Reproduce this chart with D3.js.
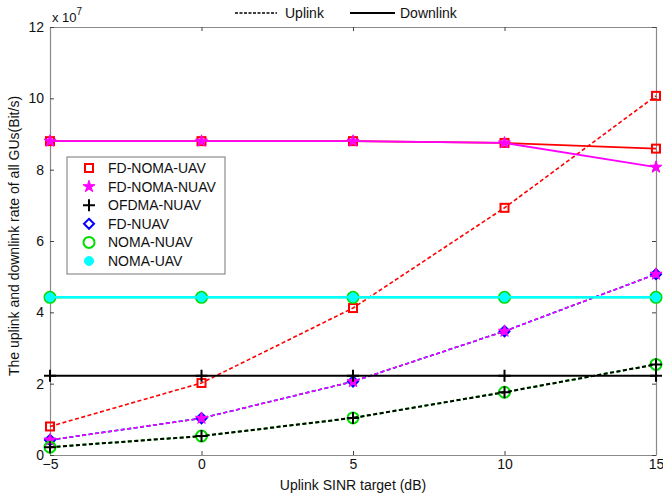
<!DOCTYPE html>
<html><head><meta charset="utf-8">
<script src="https://cdn.jsdelivr.net/npm/d3@7"></script>
<style>body{margin:0;background:#fff}svg{display:block;font-family:"Liberation Sans",Arial,sans-serif}</style>
</head><body><svg id="c" width="663" height="496"></svg>
<script>
const xVals = [-5, 0, 5, 10, 15];
const xTicks = [-5, 0, 5, 10, 15];
const yTicks = [0, 2, 4, 6, 8, 10, 12];
// values in units of 1e7 Bit/s
const fdNomaUavUp   = [0.80, 2.02, 4.12, 6.93, 10.07];
const fdNomaUavDown = [8.80, 8.80, 8.80, 8.75, 8.59];
const fdNomaNuavUp   = [0.42, 1.03, 2.06, 3.47, 5.07];
const fdNomaNuavDown = [8.80, 8.80, 8.80, 8.75, 8.07];
const ofdmaUp   = [0.22, 0.53, 1.04, 1.76, 2.54];
const ofdmaDown = [2.22, 2.22, 2.22, 2.22, 2.22];
const fdNuavUp = [0.42, 1.03, 2.06, 3.47, 5.07];
const nomaNuavUp   = [0.22, 0.53, 1.04, 1.76, 2.54];
const nomaNuavDown = [4.42, 4.42, 4.42, 4.42, 4.42];
const nomaUavUp   = [0.42, 1.03, 2.06, 3.47, 5.07];
const nomaUavDown = [4.42, 4.42, 4.42, 4.42, 4.42];
const legendNames = ["FD-NOMA-UAV","FD-NOMA-NUAV","OFDMA-NUAV","FD-NUAV","NOMA-NUAV","NOMA-UAV"];

const svg = d3.select("#c");
const L=50,R=656,T=27,B=455;
const x = d3.scaleLinear().domain([-5,15]).range([L,R]);
const y = d3.scaleLinear().domain([0,12]).range([B,T]);

const axStyle = g => { g.select(".domain").attr("stroke","#8a8a8a").attr("stroke-width",1.2);
  g.selectAll(".tick line").attr("stroke","#444");
  g.selectAll("text").attr("font-size",14).attr("fill","#111").attr("font-family","Liberation Sans, Arial"); };
svg.append("g").attr("transform",`translate(0,${B})`).call(d3.axisBottom(x).tickValues(xTicks).tickSizeInner(-4).tickSizeOuter(0).tickPadding(4).tickFormat(d3.format("d"))).call(axStyle);
svg.append("g").attr("transform",`translate(0,${T})`).call(d3.axisTop(x).tickValues(xTicks).tickSizeInner(-4).tickSizeOuter(0).tickFormat("")).call(axStyle);
svg.append("g").attr("transform",`translate(${L},0)`).call(d3.axisLeft(y).tickValues(yTicks).tickSizeInner(-4).tickSizeOuter(0).tickPadding(6)).call(axStyle);
svg.append("g").attr("transform",`translate(${R},0)`).call(d3.axisRight(y).tickValues(yTicks).tickSizeInner(-4).tickSizeOuter(0).tickFormat("")).call(axStyle);

const ex = svg.append("text").attr("x",52).attr("y",22).attr("font-size",13).attr("fill","#111");
ex.append("tspan").text("x 10");
ex.append("tspan").attr("dy",-7).attr("font-size",10).text("7");

svg.append("text").attr("x",(L+R)/2).attr("y",490).attr("text-anchor","middle").attr("font-size",14).attr("fill","#111").text("Uplink SINR target (dB)");
svg.append("text").attr("transform",`translate(19,236) rotate(-90)`).attr("text-anchor","middle").attr("font-size",14).attr("fill","#111").text("The uplink and downlink rate of all GUs(Bit/s)");

const line = d3.line().x((d,i)=>x(xVals[i])).y(d=>y(d));

function marker(g, type, color, cx, cy){
  if(type==="square") g.append("rect").attr("x",cx-4).attr("y",cy-4).attr("width",8).attr("height",8).attr("fill","none").attr("stroke",color).attr("stroke-width",2);
  else if(type==="star") g.append("path").attr("d",d3.symbol(d3.symbolStar,45)()).attr("transform",`translate(${cx},${cy})`).attr("fill",color).attr("stroke",color).attr("stroke-width",1);
  else if(type==="plus") g.append("path").attr("d",`M${cx-6},${cy}H${cx+6}M${cx},${cy-6}V${cy+6}`).attr("stroke",color).attr("stroke-width",2);
  else if(type==="diamond") g.append("path").attr("d",`M${cx},${cy-5}L${cx+5},${cy}L${cx},${cy+5}L${cx-5},${cy}Z`).attr("fill","none").attr("stroke",color).attr("stroke-width",2);
  else if(type==="circle") g.append("circle").attr("cx",cx).attr("cy",cy).attr("r",5.5).attr("fill","none").attr("stroke",color).attr("stroke-width",2);
  else if(type==="dot") g.append("circle").attr("cx",cx).attr("cy",cy).attr("r",4.5).attr("fill",color).attr("stroke",color).attr("stroke-width",1);
}
function series(vals, color, type, dashed, width){
  const g = svg.append("g");
  g.append("path").datum(vals).attr("d",line).attr("fill","none").attr("stroke",color).attr("stroke-width",width).attr("stroke-dasharray",dashed?"4,2.5":null);
  vals.forEach((v,i)=>marker(g,type,color,x(xVals[i]),y(v)));
}
series(nomaUavUp,"#00ffff","dot",true,1.6);
series(fdNuavUp,"#0000ff","diamond",true,1.6);
series(fdNomaNuavUp,"#ff00ff","star",true,1.6);
series(nomaNuavUp,"#00dd00","circle",true,2);
series(ofdmaUp,"#000000","plus",true,2);
series(fdNomaUavUp,"#ff0000","square",true,1.6);
series(nomaNuavDown,"#00dd00","circle",false,2);
series(nomaUavDown,"#00ffff","dot",false,2.5);
series(ofdmaDown,"#000000","plus",false,2);
series(fdNomaUavDown,"#ff0000","square",false,1.8);
series(fdNomaNuavDown,"#ff00ff","star",false,1.8);

const lg = svg.append("g");
lg.append("rect").attr("x",67).attr("y",157).attr("width",158).attr("height",117).attr("fill","#fff").attr("stroke","#777").attr("stroke-width",1);
const types=["square","star","plus","diamond","circle","dot"];
const cols=["#ff0000","#ff00ff","#000000","#0000ff","#00dd00","#00ffff"];
legendNames.forEach((n,i)=>{
  const cy = 168 + i*18.6;
  marker(lg,types[i],cols[i],89,cy);
  lg.append("text").attr("x",108).attr("y",cy+5).attr("font-size",14).attr("fill","#111").text(n);
});

svg.append("line").attr("x1",235).attr("x2",277).attr("y1",13).attr("y2",13).attr("stroke","#000").attr("stroke-width",1.5).attr("stroke-dasharray","3,1.5");
svg.append("text").attr("x",285).attr("y",18).attr("font-size",14).attr("fill","#111").text("Uplink");
svg.append("line").attr("x1",350).attr("x2",395).attr("y1",13).attr("y2",13).attr("stroke","#000").attr("stroke-width",2);
svg.append("text").attr("x",400).attr("y",18).attr("font-size",14).attr("fill","#111").text("Downlink");
</script></body></html>
